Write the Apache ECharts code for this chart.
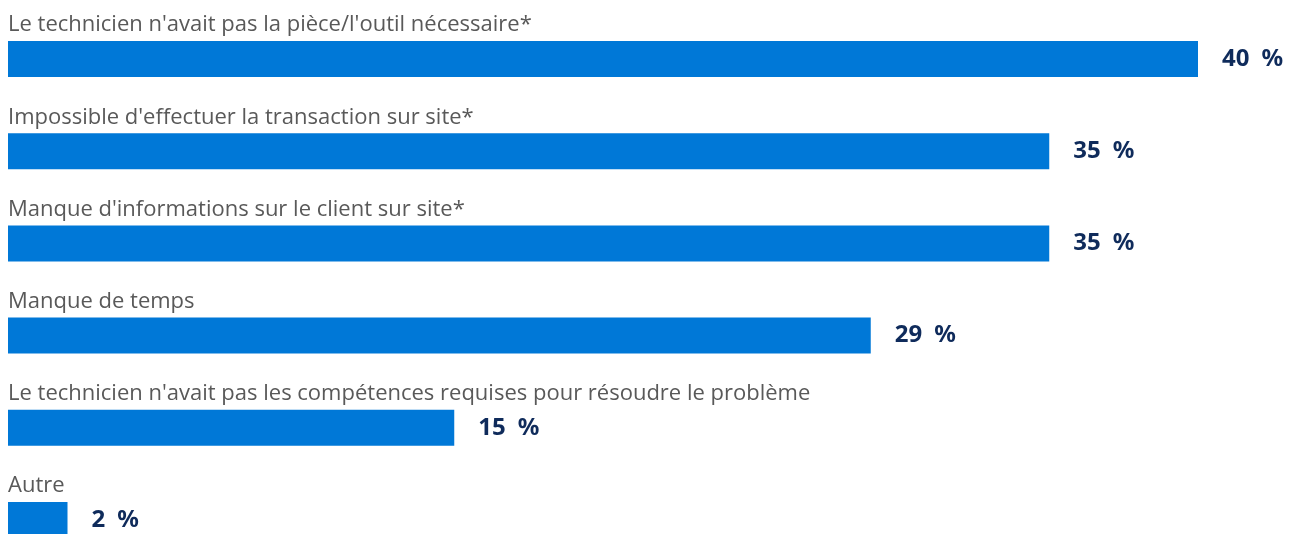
<!DOCTYPE html>
<html>
<head>
<meta charset="utf-8">
<script src="https://cdn.jsdelivr.net/npm/echarts@6/dist/echarts.min.js"></script>
<style>
html,body{margin:0;padding:0;background:#fff;overflow:hidden;}
#chart{width:1299px;height:566px;}
</style>
</head>
<body>
<div id="chart"></div>
<script>
const categories = [
  "Le technicien n'avait pas la pièce/l'outil nécessaire*",
  "Impossible d'effectuer la transaction sur site*",
  "Manque d'informations sur le client sur site*",
  "Manque de temps",
  "Le technicien n'avait pas les compétences requises pour résoudre le problème",
  "Autre"
];
const values = [40, 35, 35, 29, 15, 2];

const chart = echarts.init(document.getElementById('chart'));
chart.setOption({
  animation: false,
  grid: { left: 8, top: 13, right: 101, bottom: 0, containLabel: false },
  xAxis: { type: 'value', min: 0, max: 40, show: false },
  yAxis: { type: 'category', data: categories, inverse: true, show: false },
  series: [
    {
      type: 'bar',
      data: values,
      barWidth: 36,
      itemStyle: { color: '#0078d7' },
      label: {
        show: true,
        position: 'right',
        distance: 24,
        formatter: p => p.value + '\u2002%',
        fontFamily: 'Noto Sans',
        fontWeight: 'bold',
        fontSize: 24,
        color: '#0f2b5b'
      }
    },
    {
      type: 'bar',
      data: values,
      barWidth: 36,
      barGap: '-100%',
      itemStyle: { color: 'rgba(0,0,0,0)' },
      silent: true,
      label: {
        show: true,
        position: [0, -5],
        align: 'left',
        verticalAlign: 'bottom',
        formatter: p => p.name,
        fontFamily: 'Open Sans',
        fontSize: 22,
        color: '#595959'
      }
    }
  ]
});
</script>
</body>
</html>
